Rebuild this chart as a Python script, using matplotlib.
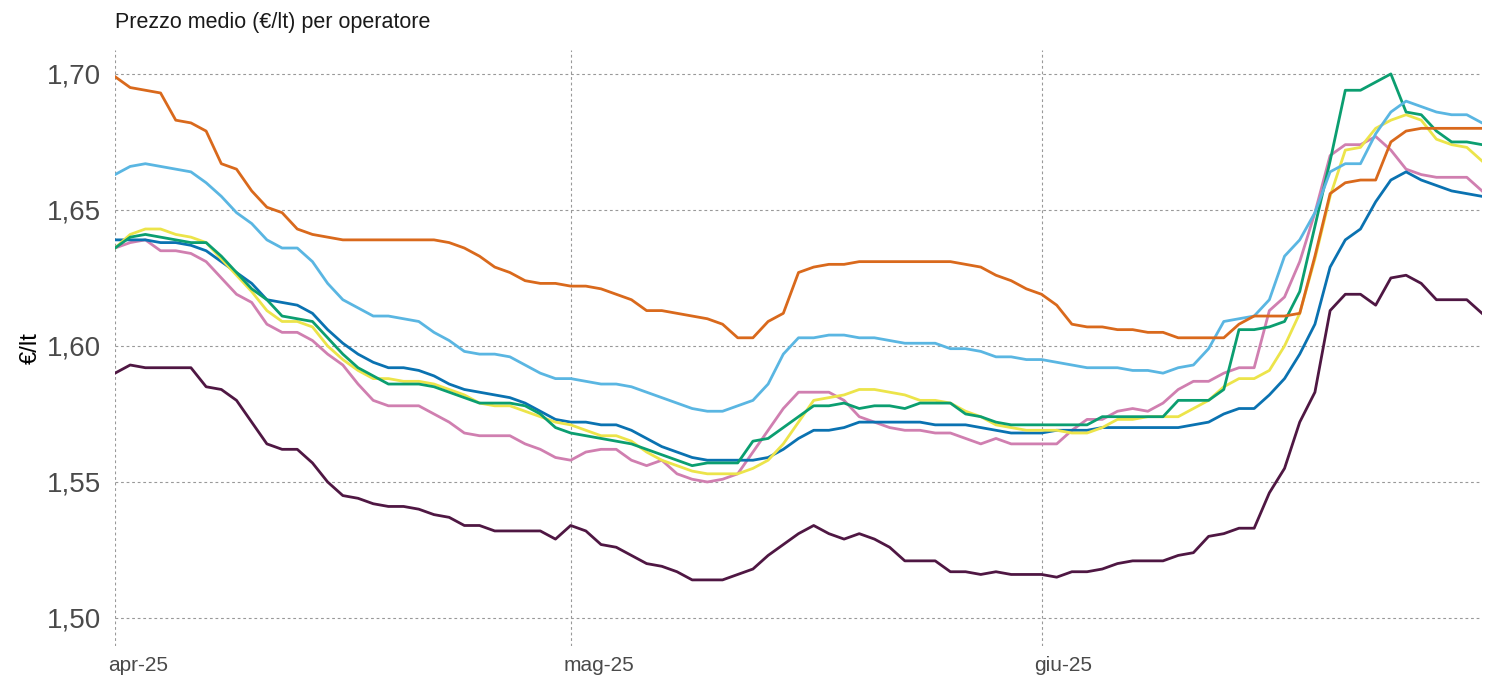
import numpy as np
import pandas as pd
import matplotlib
matplotlib.use('Agg')
import matplotlib.pyplot as plt
import matplotlib.dates as mdates
from matplotlib.transforms import ScaledTranslation

plt.rcParams['font.family'] = ['Liberation Sans', 'DejaVu Sans']

# daily average pump price (€/lt) per operator, 1 Apr - 30 Jun 2025
DATES = pd.date_range('2025-04-01', '2025-06-30', freq='D')

ORANGE = [
    1.699, 1.695, 1.694, 1.693, 1.683, 1.682, 1.679, 1.667, 1.665, 1.657,
    1.651, 1.649, 1.643, 1.641, 1.640, 1.639, 1.639, 1.639, 1.639, 1.639,
    1.639, 1.639, 1.638, 1.636, 1.633, 1.629, 1.627, 1.624, 1.623, 1.623,
    1.622, 1.622, 1.621, 1.619, 1.617, 1.613, 1.613, 1.612, 1.611, 1.610,
    1.608, 1.603, 1.603, 1.609, 1.612, 1.627, 1.629, 1.630, 1.630, 1.631,
    1.631, 1.631, 1.631, 1.631, 1.631, 1.631, 1.630, 1.629, 1.626, 1.624,
    1.621, 1.619, 1.615, 1.608, 1.607, 1.607, 1.606, 1.606, 1.605, 1.605,
    1.603, 1.603, 1.603, 1.603, 1.608, 1.611, 1.611, 1.611, 1.612, 1.633,
    1.656, 1.660, 1.661, 1.661, 1.675, 1.679, 1.680, 1.680, 1.680, 1.680, 1.680,
]
SKY = [
    1.663, 1.666, 1.667, 1.666, 1.665, 1.664, 1.660, 1.655, 1.649, 1.645,
    1.639, 1.636, 1.636, 1.631, 1.623, 1.617, 1.614, 1.611, 1.611, 1.610,
    1.609, 1.605, 1.602, 1.598, 1.597, 1.597, 1.596, 1.593, 1.590, 1.588,
    1.588, 1.587, 1.586, 1.586, 1.585, 1.583, 1.581, 1.579, 1.577, 1.576,
    1.576, 1.578, 1.580, 1.586, 1.597, 1.603, 1.603, 1.604, 1.604, 1.603,
    1.603, 1.602, 1.601, 1.601, 1.601, 1.599, 1.599, 1.598, 1.596, 1.596,
    1.595, 1.595, 1.594, 1.593, 1.592, 1.592, 1.592, 1.591, 1.591, 1.590,
    1.592, 1.593, 1.599, 1.609, 1.610, 1.611, 1.617, 1.633, 1.639, 1.649,
    1.664, 1.667, 1.667, 1.678, 1.686, 1.690, 1.688, 1.686, 1.685, 1.685, 1.682,
]
YELLOW = [
    1.636, 1.641, 1.643, 1.643, 1.641, 1.640, 1.638, 1.632, 1.626, 1.620,
    1.613, 1.609, 1.609, 1.607, 1.600, 1.595, 1.591, 1.588, 1.588, 1.587,
    1.587, 1.586, 1.584, 1.582, 1.579, 1.578, 1.578, 1.576, 1.574, 1.572,
    1.571, 1.569, 1.567, 1.567, 1.565, 1.561, 1.558, 1.556, 1.554, 1.553,
    1.553, 1.553, 1.555, 1.558, 1.564, 1.572, 1.580, 1.581, 1.582, 1.584,
    1.584, 1.583, 1.582, 1.580, 1.580, 1.579, 1.576, 1.574, 1.571, 1.570,
    1.569, 1.569, 1.569, 1.568, 1.568, 1.570, 1.573, 1.573, 1.574, 1.574,
    1.574, 1.577, 1.580, 1.585, 1.588, 1.588, 1.591, 1.600, 1.612, 1.632,
    1.655, 1.672, 1.673, 1.680, 1.683, 1.685, 1.683, 1.676, 1.674, 1.673, 1.668,
]
GREEN = [
    1.636, 1.640, 1.641, 1.640, 1.639, 1.638, 1.638, 1.633, 1.627, 1.621,
    1.617, 1.611, 1.610, 1.609, 1.603, 1.597, 1.592, 1.589, 1.586, 1.586,
    1.586, 1.585, 1.583, 1.581, 1.579, 1.579, 1.579, 1.578, 1.575, 1.570,
    1.568, 1.567, 1.566, 1.565, 1.564, 1.562, 1.560, 1.558, 1.556, 1.557,
    1.557, 1.557, 1.565, 1.566, 1.570, 1.574, 1.578, 1.578, 1.579, 1.577,
    1.578, 1.578, 1.577, 1.579, 1.579, 1.579, 1.575, 1.574, 1.572, 1.571,
    1.571, 1.571, 1.571, 1.571, 1.571, 1.574, 1.574, 1.574, 1.574, 1.574,
    1.580, 1.580, 1.580, 1.584, 1.606, 1.606, 1.607, 1.609, 1.620, 1.644,
    1.668, 1.694, 1.694, 1.697, 1.700, 1.686, 1.685, 1.679, 1.675, 1.675, 1.674,
]
BLUE = [
    1.639, 1.639, 1.639, 1.638, 1.638, 1.637, 1.635, 1.631, 1.627, 1.623,
    1.617, 1.616, 1.615, 1.612, 1.606, 1.601, 1.597, 1.594, 1.592, 1.592,
    1.591, 1.589, 1.586, 1.584, 1.583, 1.582, 1.581, 1.579, 1.576, 1.573,
    1.572, 1.572, 1.571, 1.571, 1.569, 1.566, 1.563, 1.561, 1.559, 1.558,
    1.558, 1.558, 1.558, 1.559, 1.562, 1.566, 1.569, 1.569, 1.570, 1.572,
    1.572, 1.572, 1.572, 1.572, 1.571, 1.571, 1.571, 1.570, 1.569, 1.568,
    1.568, 1.568, 1.569, 1.569, 1.569, 1.570, 1.570, 1.570, 1.570, 1.570,
    1.570, 1.571, 1.572, 1.575, 1.577, 1.577, 1.582, 1.588, 1.597, 1.608,
    1.629, 1.639, 1.643, 1.653, 1.661, 1.664, 1.661, 1.659, 1.657, 1.656, 1.655,
]
PINK = [
    1.636, 1.638, 1.639, 1.635, 1.635, 1.634, 1.631, 1.625, 1.619, 1.616,
    1.608, 1.605, 1.605, 1.602, 1.597, 1.593, 1.586, 1.580, 1.578, 1.578,
    1.578, 1.575, 1.572, 1.568, 1.567, 1.567, 1.567, 1.564, 1.562, 1.559,
    1.558, 1.561, 1.562, 1.562, 1.558, 1.556, 1.558, 1.553, 1.551, 1.550,
    1.551, 1.553, 1.561, 1.569, 1.577, 1.583, 1.583, 1.583, 1.580, 1.574,
    1.572, 1.570, 1.569, 1.569, 1.568, 1.568, 1.566, 1.564, 1.566, 1.564,
    1.564, 1.564, 1.564, 1.569, 1.573, 1.573, 1.576, 1.577, 1.576, 1.579,
    1.584, 1.587, 1.587, 1.590, 1.592, 1.592, 1.613, 1.618, 1.631, 1.649,
    1.670, 1.674, 1.674, 1.677, 1.672, 1.665, 1.663, 1.662, 1.662, 1.662, 1.657,
]
PURPLE = [
    1.590, 1.593, 1.592, 1.592, 1.592, 1.592, 1.585, 1.584, 1.580, 1.572,
    1.564, 1.562, 1.562, 1.557, 1.550, 1.545, 1.544, 1.542, 1.541, 1.541,
    1.540, 1.538, 1.537, 1.534, 1.534, 1.532, 1.532, 1.532, 1.532, 1.529,
    1.534, 1.532, 1.527, 1.526, 1.523, 1.520, 1.519, 1.517, 1.514, 1.514,
    1.514, 1.516, 1.518, 1.523, 1.527, 1.531, 1.534, 1.531, 1.529, 1.531,
    1.529, 1.526, 1.521, 1.521, 1.521, 1.517, 1.517, 1.516, 1.517, 1.516,
    1.516, 1.516, 1.515, 1.517, 1.517, 1.518, 1.520, 1.521, 1.521, 1.521,
    1.523, 1.524, 1.530, 1.531, 1.533, 1.533, 1.546, 1.555, 1.572, 1.583,
    1.613, 1.619, 1.619, 1.615, 1.625, 1.626, 1.623, 1.617, 1.617, 1.617, 1.612,
]

SERIES = [
    (PURPLE, '#4f1743'),
    (PINK, '#d07fb0'),
    (BLUE, '#0a72b1'),
    (YELLOW, '#ece44a'),
    (GREEN, '#0b9e70'),
    (SKY, '#5ab6e2'),
    (ORANGE, '#d9691c'),
]

Y_TICKS = [1.50, 1.55, 1.60, 1.65, 1.70]
Y_LABELS = ['1,50', '1,55', '1,60', '1,65', '1,70']
X_TICKS = ['2025-04-01', '2025-05-01', '2025-06-01']
X_LABELS = ['apr-25', 'mag-25', 'giu-25']

fig = plt.figure(figsize=(14.96, 6.78), dpi=100, facecolor='white')
ax = fig.add_axes([115 / 1496, 32 / 678, 1367 / 1496, 596 / 678])

for vals, col in SERIES:
    ax.plot(DATES, vals, color=col, lw=2.0, solid_joinstyle='round')

ax.set_xlim(DATES[0], DATES[-1])
ax.set_ylim(1.4897, 1.7088)

ax.set_yticks(Y_TICKS, Y_LABELS)
ax.set_xticks(pd.to_datetime(X_TICKS), X_LABELS)
ax.tick_params(axis='y', length=0, pad=10, labelsize=20, labelcolor='#4a4a4a')
ax.tick_params(axis='x', length=0, pad=7, labelsize=15, labelcolor='#4a4a4a')
shift = ScaledTranslation(-7 / 100, 0, fig.dpi_scale_trans)
for lab in ax.get_xticklabels():
    lab.set_horizontalalignment('left')
    lab.set_transform(lab.get_transform() + shift)

ax.grid(True, color='#999999', lw=0.8, ls=(0, (2.5, 2.5)))
ax.set_axisbelow(True)
for s in ax.spines.values():
    s.set_visible(False)

ax.set_ylabel('€/lt', fontsize=17, color='black')
ax.yaxis.set_label_coords(-73 / 1367, 0.5)

fig.text(115 / 1496, 1 - 28 / 678, 'Prezzo medio (€/lt) per operatore',
         fontsize=15.5, color='#1a1a1a', va='baseline', ha='left')

fig.savefig('out.png', dpi=100, facecolor='white')
